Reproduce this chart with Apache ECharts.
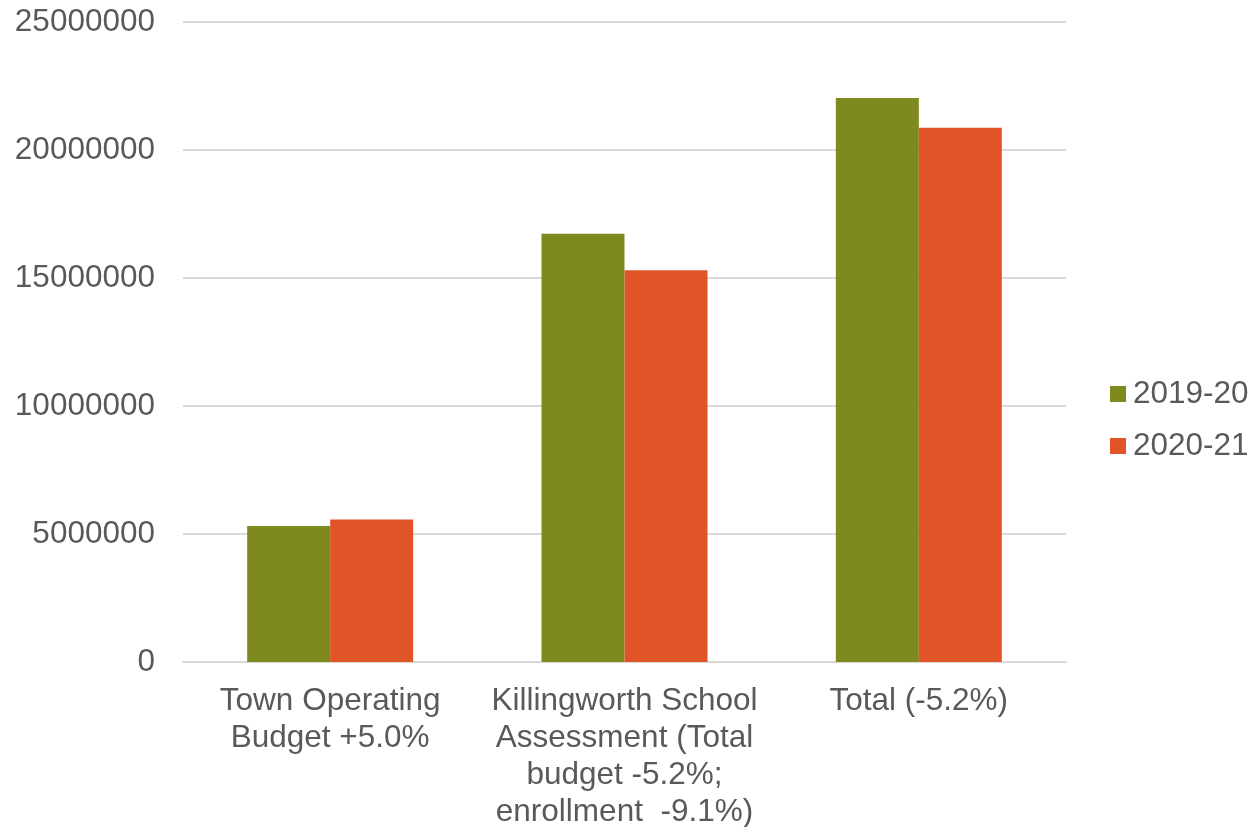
<!DOCTYPE html>
<html>
<head>
<meta charset="utf-8">
<script src="https://cdn.jsdelivr.net/npm/echarts@6/dist/echarts.min.js"></script>
<style>
  html, body { margin: 0; padding: 0; background: #fff; }
  #chart { width: 1256px; height: 827px; }
</style>
</head>
<body>
<div id="chart"></div>
<script>
// Budget categories and yearly amounts
const categories = [
  'Town Operating\nBudget +5.0%',
  'Killingworth School\nAssessment (Total\nbudget -5.2%;\nenrollment  -9.1%)',
  'Total (-5.2%)'
];
const seriesNames = ['2019-20', '2020-21'];
const values2019 = [5310000, 16730000, 22030000];
const values2020 = [5570000, 15300000, 20870000];
const seriesColors = ['#7E891E', '#E05427'];

const textColor = '#595959';
const fontFamily = 'Liberation Sans, Arial, sans-serif';
const fontSize = 31.5;

const chart = echarts.init(document.getElementById('chart'));
chart.setOption({
  animation: false,
  backgroundColor: '#ffffff',
  grid: { left: 183, right: 190, top: 22, bottom: 165, outerBoundsMode: 'none', containLabel: false },
  legend: {
    orient: 'vertical',
    left: 1105,
    top: 373,
    itemWidth: 16,
    itemHeight: 16,
    itemGap: 20,
    icon: 'rect',
    textStyle: { color: textColor, fontSize: fontSize, fontFamily: fontFamily, padding: [0, 0, 0, 2] },
    data: seriesNames
  },
  xAxis: {
    type: 'category',
    data: categories,
    axisLine: { lineStyle: { color: '#d9d9d9', width: 2 } },
    axisTick: { show: false },
    axisLabel: {
      color: textColor,
      fontSize: fontSize,
      fontFamily: fontFamily,
      lineHeight: 37,
      margin: 21,
      interval: 0
    }
  },
  yAxis: {
    type: 'value',
    min: 0,
    max: 25000000,
    interval: 5000000,
    axisLine: { show: false },
    axisTick: { show: false },
    splitLine: { lineStyle: { color: '#d9d9d9', width: 2 } },
    axisLabel: {
      color: textColor,
      fontSize: fontSize,
      fontFamily: fontFamily,
      margin: 28,
      formatter: function (v) { return String(v); }
    }
  },
  series: [
    {
      name: seriesNames[0],
      type: 'bar',
      data: values2019,
      barWidth: '28.2%',
      barGap: '0%',
      itemStyle: { color: seriesColors[0] }
    },
    {
      name: seriesNames[1],
      type: 'bar',
      data: values2020,
      barWidth: '28.2%',
      itemStyle: { color: seriesColors[1] }
    }
  ]
});
</script>
</body>
</html>
